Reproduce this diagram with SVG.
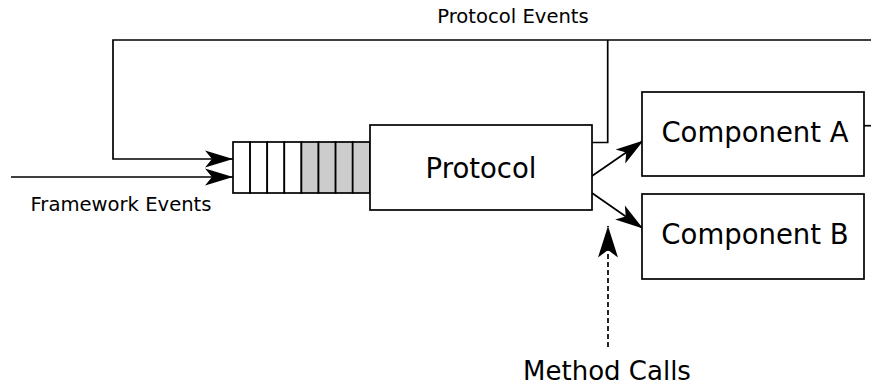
<svg xmlns="http://www.w3.org/2000/svg" width="871" height="386" viewBox="0 0 871 386">
  <style>
    .box { fill: #ffffff; stroke: #000000; stroke-width: 1.7; }
    .cell { fill: #ffffff; stroke: #000000; stroke-width: 1.7; }
    .cell.full { fill: #cccccc; }
    .wire { fill: none; stroke: #000000; stroke-width: 1.7; }
    .dash { stroke-dasharray: 5 3; }
    .lbl { font-family: "DejaVu Sans", "Liberation Sans", sans-serif; fill: #000000; }
    .small { font-size: 19.6px; }
    .big { font-size: 27.5px; }
    .mid { font-size: 26px; }
  </style>
  <defs>
    <marker id="head" markerUnits="userSpaceOnUse" markerWidth="34" markerHeight="22" refX="30" refY="11" orient="auto" viewBox="0 0 34 22">
      <path d="M30,11 L2,2.5 L9,11 L2,19.5 Z" fill="#000000"/>
    </marker>
    <marker id="head-lg" markerUnits="userSpaceOnUse" markerWidth="36" markerHeight="24" refX="33" refY="12" orient="auto" viewBox="0 0 36 24">
      <path d="M33,12 L1.5,2 L9,12 L1.5,22 Z" fill="#000000"/>
    </marker>
  </defs>

  <g id="connectors">
    <!-- feedback loop carrying protocol events back into the queue -->
    <path class="wire" d="M871,40 H113 V159 H233" marker-end="url(#head)"/>
    <path class="wire" d="M592,142.5 H607.7 V40"/>
    <path class="wire" d="M864,125.7 H871"/>
    <!-- external framework input -->
    <path class="wire" d="M11,177 H233" marker-end="url(#head)"/>
    <!-- protocol to components -->
    <path class="wire" d="M592,176 L643.5,140.5" marker-end="url(#head)"/>
    <path class="wire" d="M592,193 L643,228.5" marker-end="url(#head)"/>
    <!-- method calls -->
    <path class="wire dash" d="M608,347 V226" marker-end="url(#head-lg)"/>
  </g>

  <g id="queue">
    <rect class="cell" x="233" y="142" width="17.1" height="51"/>
    <rect class="cell" x="250.1" y="142" width="17.1" height="51"/>
    <rect class="cell" x="267.2" y="142" width="17.1" height="51"/>
    <rect class="cell" x="284.3" y="142" width="17.1" height="51"/>
    <rect class="cell full" x="301.4" y="142" width="17.1" height="51"/>
    <rect class="cell full" x="318.5" y="142" width="17.1" height="51"/>
    <rect class="cell full" x="335.6" y="142" width="17.1" height="51"/>
    <rect class="cell full" x="352.7" y="142" width="17.3" height="51"/>
  </g>

  <g id="protocol">
    <rect class="box" x="370" y="125" width="222" height="85"/>
    <text class="lbl big" x="481" y="178" text-anchor="middle">Protocol</text>
  </g>

  <g id="component-a">
    <rect class="box" x="642" y="92" width="222" height="84"/>
    <text class="lbl big" x="755" y="142" text-anchor="middle">Component A</text>
  </g>

  <g id="component-b">
    <rect class="box" x="642" y="194" width="222" height="85"/>
    <text class="lbl big" x="755" y="243.5" text-anchor="middle">Component B</text>
  </g>

  <g id="labels">
    <text class="lbl small" x="513" y="23" text-anchor="middle">Protocol Events</text>
    <text class="lbl small" x="121" y="210.5" text-anchor="middle">Framework Events</text>
    <text class="lbl mid" x="607" y="380" text-anchor="middle">Method Calls</text>
  </g>
</svg>
